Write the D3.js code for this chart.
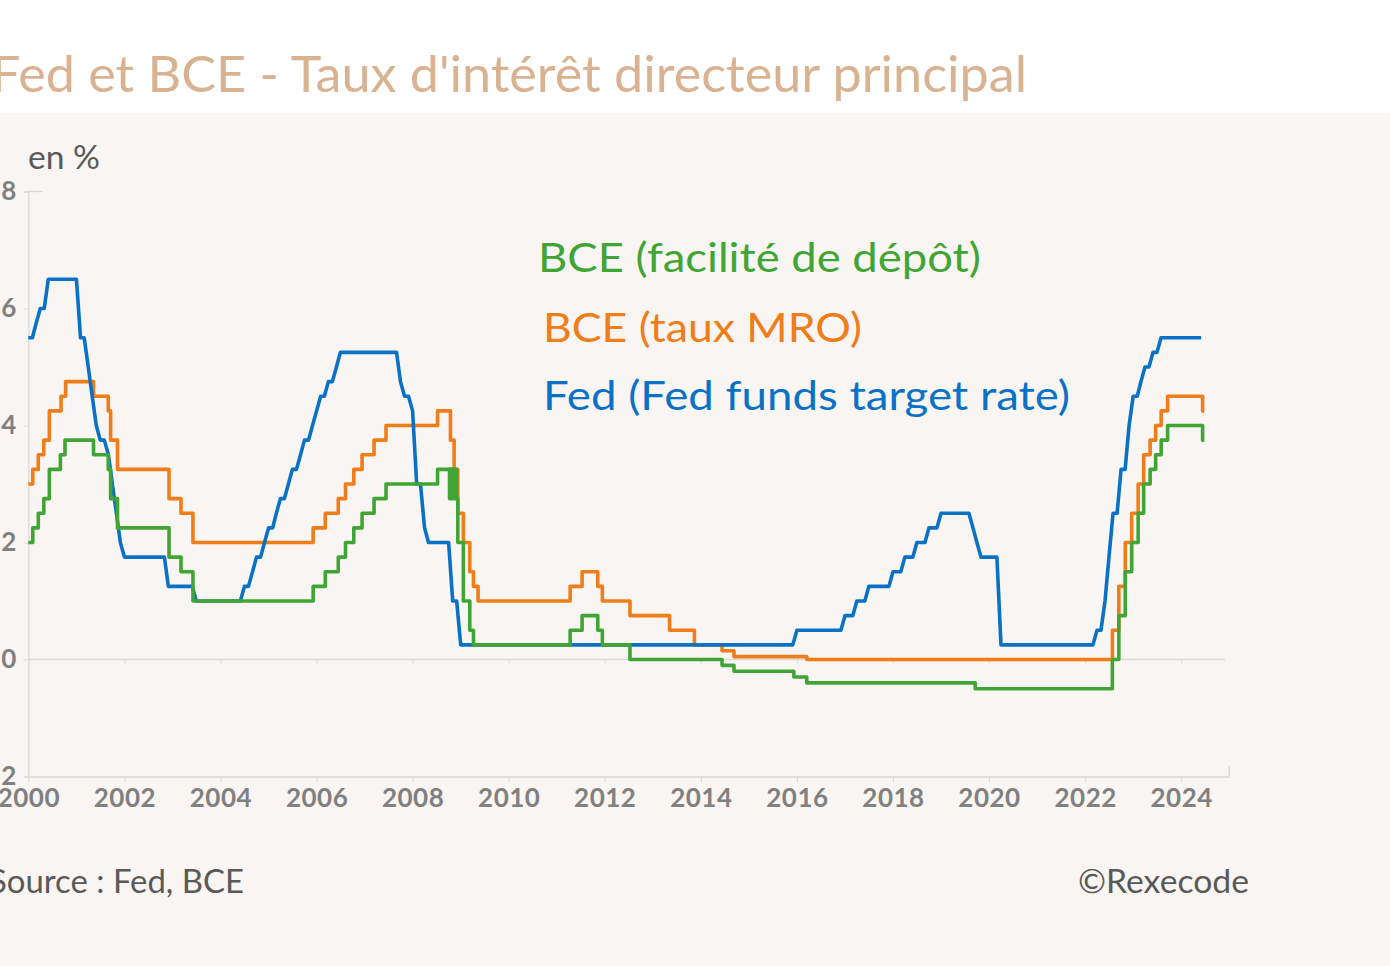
<!DOCTYPE html>
<html>
<head>
<meta charset="utf-8">
<script src="https://cdn.jsdelivr.net/npm/d3@7"></script>
<style>
  html, body { margin: 0; padding: 0; background: #ffffff; }
  svg { display: block; }
  text { font-family: Lato, "Open Sans", sans-serif; }
</style>
</head>
<body>
<svg id="chart"></svg>
<script>
// Fed funds target rate, valeur au 1er de chaque mois, janv. 2000 -> juin 2024
var fedStart = "2000-01-01";
var fedValues = [
  5.5, 5.5, 5.75, 6, 6, 6.5, 6.5, 6.5, 6.5, 6.5, 6.5, 6.5,                 // 2000
  6.5, 5.5, 5.5, 5, 4.5, 4, 3.75, 3.75, 3.5, 3, 2.5, 2,                    // 2001
  1.75, 1.75, 1.75, 1.75, 1.75, 1.75, 1.75, 1.75, 1.75, 1.75, 1.75, 1.25,  // 2002
  1.25, 1.25, 1.25, 1.25, 1.25, 1.25, 1, 1, 1, 1, 1, 1,                    // 2003
  1, 1, 1, 1, 1, 1, 1.25, 1.25, 1.5, 1.75, 1.75, 2,                        // 2004
  2.25, 2.25, 2.5, 2.75, 2.75, 3, 3.25, 3.25, 3.5, 3.75, 3.75, 4,          // 2005
  4.25, 4.5, 4.5, 4.75, 4.75, 5, 5.25, 5.25, 5.25, 5.25, 5.25, 5.25,       // 2006
  5.25, 5.25, 5.25, 5.25, 5.25, 5.25, 5.25, 5.25, 5.25, 4.75, 4.5, 4.5,    // 2007
  4.25, 3, 3, 2.25, 2, 2, 2, 2, 2, 2, 1, 1,                                // 2008
  0.25, 0.25, 0.25, 0.25, 0.25, 0.25, 0.25, 0.25, 0.25, 0.25, 0.25, 0.25,  // 2009
  0.25, 0.25, 0.25, 0.25, 0.25, 0.25, 0.25, 0.25, 0.25, 0.25, 0.25, 0.25,  // 2010
  0.25, 0.25, 0.25, 0.25, 0.25, 0.25, 0.25, 0.25, 0.25, 0.25, 0.25, 0.25,  // 2011
  0.25, 0.25, 0.25, 0.25, 0.25, 0.25, 0.25, 0.25, 0.25, 0.25, 0.25, 0.25,  // 2012
  0.25, 0.25, 0.25, 0.25, 0.25, 0.25, 0.25, 0.25, 0.25, 0.25, 0.25, 0.25,  // 2013
  0.25, 0.25, 0.25, 0.25, 0.25, 0.25, 0.25, 0.25, 0.25, 0.25, 0.25, 0.25,  // 2014
  0.25, 0.25, 0.25, 0.25, 0.25, 0.25, 0.25, 0.25, 0.25, 0.25, 0.25, 0.25,  // 2015
  0.5, 0.5, 0.5, 0.5, 0.5, 0.5, 0.5, 0.5, 0.5, 0.5, 0.5, 0.5,              // 2016
  0.75, 0.75, 0.75, 1, 1, 1, 1.25, 1.25, 1.25, 1.25, 1.25, 1.25,           // 2017
  1.5, 1.5, 1.5, 1.75, 1.75, 1.75, 2, 2, 2, 2.25, 2.25, 2.25,              // 2018
  2.5, 2.5, 2.5, 2.5, 2.5, 2.5, 2.5, 2.5, 2.25, 2, 1.75, 1.75,             // 2019
  1.75, 1.75, 1.75, 0.25, 0.25, 0.25, 0.25, 0.25, 0.25, 0.25, 0.25, 0.25,  // 2020
  0.25, 0.25, 0.25, 0.25, 0.25, 0.25, 0.25, 0.25, 0.25, 0.25, 0.25, 0.25,  // 2021
  0.25, 0.25, 0.25, 0.5, 0.5, 1, 1.75, 2.5, 2.5, 3.25, 3.25, 4,            // 2022
  4.5, 4.5, 4.75, 5, 5, 5.25, 5.25, 5.5, 5.5, 5.5, 5.5, 5.5,               // 2023
  5.5, 5.5, 5.5, 5.5, 5.5, 5.5                                             // 2024
];

// BCE taux MRO : date de changement, nouveau taux (la derniere ligne ferme la serie)
var mroDates = [
  "2000-01-01", "2000-02-04", "2000-03-17", "2000-04-28", "2000-06-09", "2000-09-06", "2000-10-11",
  "2001-05-11", "2001-08-31", "2001-09-18", "2001-11-09",
  "2002-12-06", "2003-03-07", "2003-06-06",
  "2005-12-06", "2006-03-08", "2006-06-15", "2006-08-09", "2006-10-11", "2006-12-13",
  "2007-03-14", "2007-06-13",
  "2008-07-09", "2008-10-15", "2008-11-12", "2008-12-10",
  "2009-01-21", "2009-03-11", "2009-04-08", "2009-05-13",
  "2011-04-13", "2011-07-13", "2011-11-09", "2011-12-14",
  "2012-07-11", "2013-05-08", "2013-11-13",
  "2014-06-11", "2014-09-10", "2016-03-16",
  "2022-07-27", "2022-09-14", "2022-11-02", "2022-12-21",
  "2023-02-08", "2023-03-22", "2023-05-10", "2023-06-21", "2023-08-02", "2023-09-20",
  "2024-06-12", "2024-06-25"
];
var mroValues = [
  3.00, 3.25, 3.50, 3.75, 4.25, 4.50, 4.75,
  4.50, 4.25, 3.75, 3.25,
  2.75, 2.50, 2.00,
  2.25, 2.50, 2.75, 3.00, 3.25, 3.50,
  3.75, 4.00,
  4.25, 3.75, 3.25, 2.50,
  2.00, 1.50, 1.25, 1.00,
  1.25, 1.50, 1.25, 1.00,
  0.75, 0.50, 0.25,
  0.15, 0.05, 0.00,
  0.50, 1.25, 2.00, 2.50,
  3.00, 3.50, 3.75, 4.00, 4.25, 4.50,
  4.25, 4.25
];

// BCE facilite de depot
var depDates = [
  "2000-01-01", "2000-02-04", "2000-03-17", "2000-04-28", "2000-06-09", "2000-09-01", "2000-10-06",
  "2001-05-11", "2001-08-31", "2001-09-18", "2001-11-09",
  "2002-12-06", "2003-03-07", "2003-06-06",
  "2005-12-06", "2006-03-08", "2006-06-15", "2006-08-09", "2006-10-11", "2006-12-13",
  "2007-03-14", "2007-06-13",
  "2008-07-09", "2008-10-08", "2008-10-09", "2008-10-21", "2008-10-22", "2008-11-04",
  "2008-11-05", "2008-11-18", "2008-11-19", "2008-12-01", "2008-12-10",
  "2009-01-21", "2009-03-11", "2009-04-08",
  "2011-04-13", "2011-07-13", "2011-11-09", "2011-12-14",
  "2012-07-11", "2014-06-11", "2014-09-10", "2015-12-09", "2016-03-16", "2019-09-18",
  "2022-07-27", "2022-09-14", "2022-11-02", "2022-12-21",
  "2023-02-08", "2023-03-22", "2023-05-10", "2023-06-21", "2023-08-02", "2023-09-20",
  "2024-06-12", "2024-06-25"
];
var depValues = [
  2.00, 2.25, 2.50, 2.75, 3.25, 3.50, 3.75,
  3.50, 3.25, 2.75, 2.25,
  1.75, 1.50, 1.00,
  1.25, 1.50, 1.75, 2.00, 2.25, 2.50,
  2.75, 3.00,
  3.25, 2.75, 3.25, 2.75, 3.25, 2.75,
  3.25, 2.75, 3.25, 2.75, 2.00,
  1.00, 0.50, 0.25,
  0.50, 0.75, 0.50, 0.25,
  0.00, -0.10, -0.20, -0.30, -0.40, -0.50,
  0.00, 0.75, 1.50, 2.00,
  2.50, 3.00, 3.25, 3.50, 3.75, 4.00,
  3.75, 3.75
];

var yTicks = [-2, 0, 2, 4, 6, 8];

var legend = [
  { label: "BCE (facilité de dépôt)", color: "#41a535", x: 538, y: 272, len: 443 },
  { label: "BCE (taux MRO)", color: "#ef7d1a", x: 543, y: 342, len: 319 },
  { label: "Fed (Fed funds target rate)", color: "#0a72c6", x: 543, y: 410, len: 527 }
];

var W = 1390, H = 966;
var parse = d3.timeParse("%Y-%m-%d");

var svg = d3.select("#chart").attr("width", W).attr("height", H);

// fonds
svg.append("rect").attr("x", 0).attr("y", 0).attr("width", W).attr("height", 113).attr("fill", "#ffffff");
svg.append("rect").attr("x", 0).attr("y", 113).attr("width", W).attr("height", H - 113).attr("fill", "#f9f5f2");

// titre
svg.append("text")
  .attr("x", -9).attr("y", 92)
  .attr("textLength", 1036).attr("lengthAdjust", "spacingAndGlyphs")
  .style("font-size", "51px").attr("fill", "#d9b291")
  .text("Fed et BCE - Taux d'intérêt directeur principal");

var x = d3.scaleTime()
  .domain([new Date(2000, 0, 1), new Date(2025, 0, 1)])
  .range([28.3, 1229.3]);

var y = d3.scaleLinear().domain([-2, 8]).range([776.5, 191.5]);

var gridColor = "#d9d9d9";

// ligne du zero avec graduations
var zeroAxis = svg.append("g")
  .attr("transform", "translate(0," + y(0) + ")")
  .call(d3.axisBottom(x).ticks(d3.timeYear.every(2)).tickSize(4).tickSizeOuter(0).tickFormat(""));
zeroAxis.select(".domain").attr("stroke", gridColor).attr("stroke-width", 1.3)
  .attr("d", "M" + x.range()[0] + ",0H1225");
zeroAxis.selectAll(".tick line").attr("stroke", gridColor);

// axe du bas
var xAxis = svg.append("g")
  .attr("transform", "translate(0," + y(-2) + ")")
  .call(d3.axisBottom(x).ticks(d3.timeYear.every(2)).tickSize(6).tickSizeOuter(0)
    .tickFormat(d3.timeFormat("%Y")));
xAxis.select(".domain").attr("stroke", gridColor).attr("stroke-width", 1.3);
xAxis.selectAll(".tick line").attr("stroke", gridColor);
xAxis.selectAll(".tick text")
  .attr("y", 12).attr("dy", "0.71em")
  .style("font-size", "26px").style("font-weight", "bold").style("letter-spacing", "0.5px")
  .attr("fill", "#808080");
xAxis.append("line")
  .attr("x1", x.range()[1]).attr("x2", x.range()[1])
  .attr("y1", 0).attr("y2", -10)
  .attr("stroke", gridColor).attr("stroke-width", 1.3);

// axe vertical
var yAxis = svg.append("g")
  .attr("transform", "translate(" + x.range()[0] + ",0)")
  .call(d3.axisLeft(y).tickValues(yTicks).tickSize(4).tickPadding(8).tickFormat(d3.format("d")));
yAxis.select(".domain").attr("stroke", gridColor).attr("stroke-width", 1.3);
yAxis.selectAll(".tick line").attr("stroke", gridColor);
yAxis.selectAll(".tick text")
  .style("font-size", "26px").style("font-weight", "bold").attr("fill", "#808080");
yAxis.append("line")
  .attr("x1", 0).attr("x2", 14).attr("y1", y(8)).attr("y2", y(8))
  .attr("stroke", gridColor).attr("stroke-width", 1.3);

svg.append("text")
  .attr("x", 28).attr("y", 169)
  .attr("textLength", 72).attr("lengthAdjust", "spacingAndGlyphs")
  .style("font-size", "32px").attr("fill", "#595959")
  .text("en %");

// series
var fed = fedValues.map(function (v, i) {
  return { date: d3.timeMonth.offset(parse(fedStart), i), value: v };
});
var mro = mroDates.map(function (d, i) { return { date: parse(d), value: mroValues[i] }; });
var dep = depDates.map(function (d, i) { return { date: parse(d), value: depValues[i] }; });

var lineLin = d3.line().x(function (d) { return x(d.date); }).y(function (d) { return y(d.value); });
var lineStep = d3.line().curve(d3.curveStepAfter)
  .x(function (d) { return x(d.date); }).y(function (d) { return y(d.value); });

function drawSeries(data, gen, color) {
  svg.append("path")
    .datum(data)
    .attr("d", gen)
    .attr("fill", "none")
    .attr("stroke", color)
    .attr("stroke-width", 3.6)
    .attr("stroke-linejoin", "round");
}

drawSeries(mro, lineStep, legend[1].color);
drawSeries(fed, lineLin, legend[2].color);
drawSeries(dep, lineStep, legend[0].color);

// legende
legend.forEach(function (l) {
  svg.append("text")
    .attr("x", l.x).attr("y", l.y)
    .attr("textLength", l.len).attr("lengthAdjust", "spacingAndGlyphs")
    .style("font-size", "40px").attr("fill", l.color)
    .text(l.label);
});

// pied
svg.append("text")
  .attr("x", -11).attr("y", 893)
  .attr("textLength", 255).attr("lengthAdjust", "spacingAndGlyphs")
  .style("font-size", "33px").attr("fill", "#595959")
  .text("Source : Fed, BCE");

svg.append("text")
  .attr("x", 1078).attr("y", 893)
  .attr("textLength", 171).attr("lengthAdjust", "spacingAndGlyphs")
  .style("font-size", "33px").attr("fill", "#595959")
  .text("©Rexecode");
</script>
</body>
</html>
